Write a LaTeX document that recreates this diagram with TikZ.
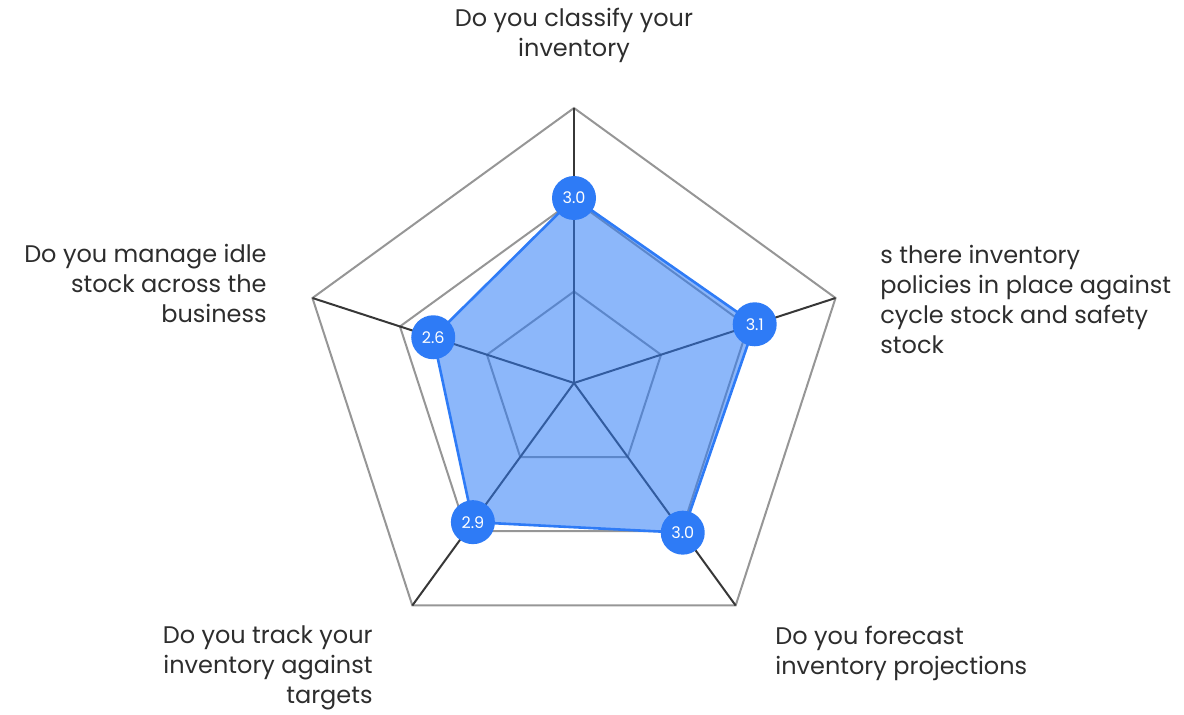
\documentclass[tikz,border=0pt]{standalone}
\usepackage{fontspec}
\setmainfont{Poppins}
\usetikzlibrary{positioning}
\definecolor{gridgray}{RGB}{150,150,150}
\definecolor{spokegray}{RGB}{55,55,55}
\definecolor{chartblue}{RGB}{46,123,246}
\definecolor{labeltext}{RGB}{45,45,45}

\begin{document}
\begin{tikzpicture}[x=0.5pt,y=0.5pt,
		ring/.style={draw=gridgray,line width=1pt,line join=miter},
		spoke/.style={draw=spokegray,line width=1pt},
		score/.style={circle,fill=chartblue,minimum size=22pt,inner sep=0pt,text=white,font=\fontsize{8}{9}\selectfont},
		question/.style={inner sep=0pt,text=labeltext,font=\fontsize{12}{15}\selectfont}
	]
			\useasboundingbox (0,0) rectangle (1184,714);

			\coordinate (o) at (574,331);
			\begin{scope}[shift={(o)}]
				\coordinate (a1) at (90:275);
				\coordinate (a2) at (18:275);
				\coordinate (a3) at (-54:275);
				\coordinate (a4) at (-126:275);
				\coordinate (a5) at (162:275);

				\coordinate (m1) at (90:183);
				\coordinate (m2) at (18:183);
				\coordinate (m3) at (-54:183);
				\coordinate (m4) at (-126:183);
				\coordinate (m5) at (162:183);

				\coordinate (i1) at (90:91.5);
				\coordinate (i2) at (18:91.5);
				\coordinate (i3) at (-54:91.5);
				\coordinate (i4) at (-126:91.5);
				\coordinate (i5) at (162:91.5);
			\end{scope}

			\draw[ring] (a1) -- (a2) -- (a3) -- (a4) -- (a5) -- cycle;
			\draw[ring] (m1) -- (m2) -- (m3) -- (m4) -- (m5) -- cycle;
			\draw[ring] (i1) -- (i2) -- (i3) -- (i4) -- (i5) -- cycle;

			\draw[spoke] (o) -- (a1);
			\draw[spoke] (o) -- (a2);
			\draw[spoke] (o) -- (a3);
			\draw[spoke] (o) -- (a4);
			\draw[spoke] (o) -- (a5);

			% scores
			\begin{scope}[shift={(o)}]
				\coordinate (p1) at (90:185);
				\coordinate (p2) at (18:190);
				\coordinate (p3) at (-54:185);
				\coordinate (p4) at (-126:172);
				\coordinate (p5) at (162:148);
			\end{scope}
			\fill[chartblue,fill opacity=0.55] (p1) -- (p2) -- (p3) -- (p4) -- (p5) -- cycle;
			\draw[chartblue,line width=1.3pt,line join=round] (p1) -- (p2) -- (p3) -- (p4) -- (p5) -- cycle;

			\node[score] (s1) at (p1) {3.0};
			\node[score] (s2) at (p2) {3.1};
			\node[score] (s3) at (p3) {3.0};
			\node[score] (s4) at (p4) {2.9};
			\node[score] (s5) at (p5) {2.6};

			% questions
			\node[question,align=center] (qclass) at (574,679) {Do you classify your\\inventory};
			\node[question,align=left,anchor=west] (qpolicy) at (880,415) {s there inventory\\policies in place against\\cycle stock and safety\\stock};
			\node[question,align=left,anchor=west] (qforecast) at (775,61) {Do you forecast\\inventory projections};
			\node[question,align=right,anchor=east] (qtrack) at (373,46) {Do you track your\\inventory against\\targets};
			\node[question,align=right,anchor=east] (qidle) at (267,431) {Do you manage idle\\stock across the\\business};
		\end{tikzpicture}
\end{document}
